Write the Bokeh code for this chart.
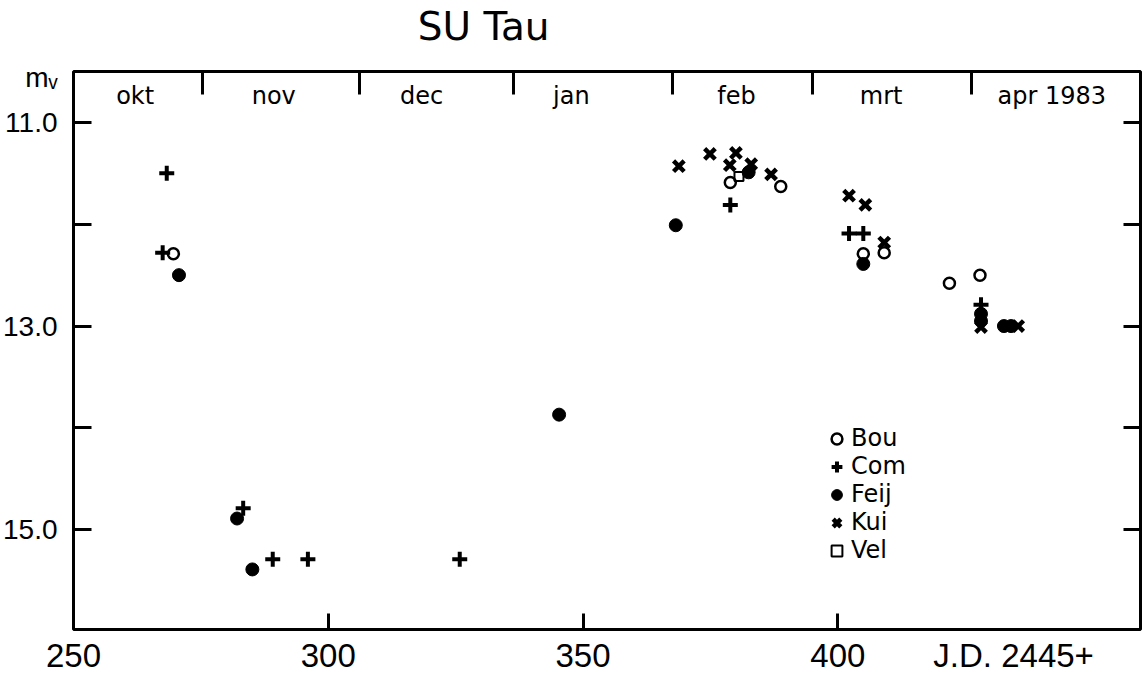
from bokeh.plotting import figure
from bokeh.models import Range1d, LinearAxis, FixedTicker, Legend, LegendItem
from bokeh.core.properties import value
from bokeh.embed import file_html
from bokeh.resources import INLINE

# ---- data (J.D. 2445000+ , visual magnitude) ----
bou_jd = [269.6, 378.9, 388.8, 405.0, 409.1, 421.9, 427.9]
bou_mag = [12.29, 11.59, 11.63, 12.29, 12.28, 12.58, 12.50]

com_jd = [268.3, 267.5, 283.3, 289.1, 296.0, 325.8, 378.9, 402.2, 405.0, 428.1]
com_mag = [11.50, 12.28, 14.79, 15.29, 15.29, 15.29, 11.81, 12.09, 12.09, 12.79]

feij_jd = [270.7, 282.1, 285.1, 345.3, 368.2, 382.5, 405.0, 428.1, 428.1, 432.6, 434.0]
feij_mag = [12.50, 14.89, 15.39, 13.87, 12.01, 11.49, 12.39, 12.88, 12.95, 13.00, 13.00]

kui_jd = [368.8, 374.9, 380.0, 378.8, 383.0, 386.9, 402.2, 405.4, 409.1, 428.1, 435.4]
kui_mag = [11.43, 11.31, 11.30, 11.42, 11.41, 11.51, 11.72, 11.81, 12.18, 13.01, 13.00]

vel_jd = [380.6]
vel_mag = [11.53]

months = ["okt", "nov", "dec", "jan", "feb", "mrt", "apr 1983"]
month_mid_jd = [262.1, 289.3, 318.3, 347.7, 380.1, 408.5, 442.0]
month_start_jd = [275.4, 306.2, 336.3, 367.6, 395.1, 426.3]

title_text = "SU Tau"
title_jd = 330.5

x_ticks = [300, 350, 400]
x_label_pos = [250, 300, 350, 400, 434.5]
x_labels = ["250", "300", "350", "400", "J.D. 2445+"]
y_ticks = [11, 12, 13, 14, 15]
y_label_pos = [10.56, 11, 13, 15]
y_labels = ["m\u1d65", "11.0", "13.0", "15.0"]

NUM_FONT = "Liberation Sans"
TXT_FONT = "DejaVu Sans"

p = figure(width=1143, height=680, output_backend="svg", toolbar_location=None,
           x_range=Range1d(250, 459.4), y_range=Range1d(15.98, 10.5),
           x_axis_location=None, y_axis_location=None,
           min_border_left=70, min_border_right=3, min_border_top=71, min_border_bottom=51)
p.grid.visible = False
p.outline_line_color = "black"
p.outline_line_width = 3
p.background_fill_color = "white"
p.border_fill_color = "white"


def tick_axis(ticks, tin):
    ax = LinearAxis(ticker=FixedTicker(ticks=ticks),
                    major_label_overrides={t: "" for t in ticks})
    ax.axis_line_color = None
    ax.major_tick_in = tin
    ax.major_tick_out = 0
    ax.major_tick_line_width = 3
    ax.major_tick_line_color = "black"
    ax.minor_tick_line_color = None
    ax.major_label_text_font_size = "0px"
    ax.major_label_standoff = 0
    return ax


def label_axis(pos, labels, size, standoff, font=NUM_FONT):
    ax = LinearAxis(ticker=FixedTicker(ticks=pos),
                    major_label_overrides=dict(zip(pos, labels)))
    ax.axis_line_color = None
    ax.major_tick_line_color = None
    ax.minor_tick_line_color = None
    ax.major_tick_in = 0
    ax.major_tick_out = 0
    ax.major_label_text_font = font
    ax.major_label_text_font_size = size
    ax.major_label_text_color = "black"
    ax.major_label_standoff = standoff
    return ax


# tick marks (inward) on all four sides
p.add_layout(tick_axis(y_ticks, 18), "left")
p.add_layout(tick_axis(y_ticks, 17), "right")
p.add_layout(tick_axis(x_ticks, 16), "below")
p.add_layout(tick_axis(month_start_jd, 23), "above")

# tick labels and title line
p.add_layout(label_axis(y_label_pos, y_labels, "28px", 16), "left")
p.add_layout(label_axis(x_label_pos, x_labels, "33px", 7), "below")
p.add_layout(label_axis([title_jd], [title_text], "39px", 23, TXT_FONT), "above")

# month names inside the top of the frame
p.text(x=month_mid_jd, y=[10.745] * len(months), text=months,
       text_font=value(TXT_FONT), text_font_size="24px", text_align="center",
       text_baseline="alphabetic", text_color="black")

# observations
r_bou = p.scatter(bou_jd, bou_mag, marker="circle", size=11, fill_color=None,
                  line_color="black", line_width=2.5)
r_com = p.scatter(com_jd, com_mag, marker="cross", size=15, line_color="black", line_width=4)
r_feij = p.scatter(feij_jd, feij_mag, marker="circle", size=13, fill_color="black",
                   line_color="black", line_width=1)
r_kui = p.scatter(kui_jd, kui_mag, marker="x", size=15, line_color="black", line_width=4.5)
r_vel = p.scatter(vel_jd, vel_mag, marker="square", size=9, fill_color=None,
                  line_color="black", line_width=2)

legend = Legend(items=[LegendItem(label="Bou", renderers=[r_bou]),
                       LegendItem(label="Com", renderers=[r_com]),
                       LegendItem(label="Feij", renderers=[r_feij]),
                       LegendItem(label="Kui", renderers=[r_kui]),
                       LegendItem(label="Vel", renderers=[r_vel])],
                location=(750, 65), orientation="vertical",
                glyph_width=27, glyph_height=27, label_height=27, spacing=0,
                label_standoff=1, padding=0, margin=0,
                label_text_font=TXT_FONT, label_text_font_size="24px",
                label_text_color="black",
                border_line_color=None, background_fill_alpha=0)
p.add_layout(legend, "center")

open("out.html", "w").write(file_html(p, INLINE))
